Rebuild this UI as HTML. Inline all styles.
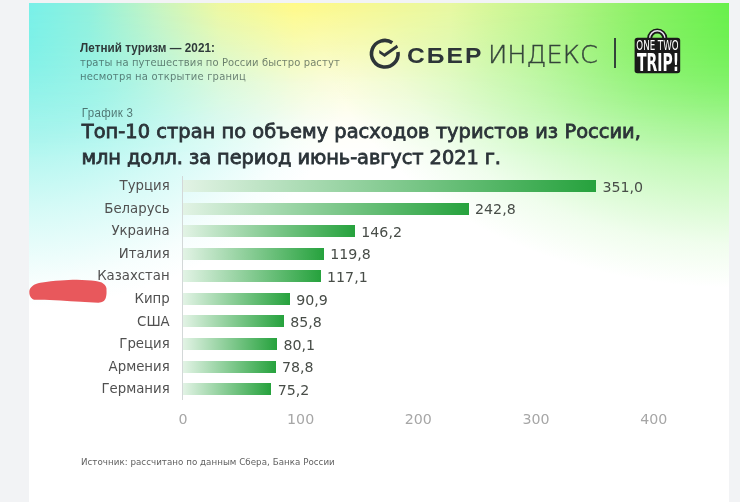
<!DOCTYPE html>
<html lang="ru">
<head>
<meta charset="utf-8">
<style>
html,body{margin:0;padding:0;}
body{width:740px;height:502px;overflow:hidden;background:#f2f3f5;position:relative;font-family:"Liberation Sans","DejaVu Sans",sans-serif;}
#card{position:absolute;left:29px;top:3px;width:700px;height:499px;overflow:hidden;background:#fff;filter:blur(0.4px);}
.bg{position:absolute;left:0;top:0;width:700px;height:499px;}
#bg1{background:linear-gradient(to right,#78f0e8 0px,#90f0dc 60px,#c8f4c0 130px,#eef8a0 190px,#fffa88 265px,#f8f890 320px,#e8f8a0 420px,#bcf48c 520px,#8cf066 610px,#68f04c 700px);
 -webkit-mask-image:linear-gradient(to bottom,#000 0px,rgba(0,0,0,.66) 40px,rgba(0,0,0,.3) 80px,rgba(0,0,0,.08) 120px,transparent 155px);mask-image:linear-gradient(to bottom,#000 0px,rgba(0,0,0,.66) 40px,rgba(0,0,0,.3) 80px,rgba(0,0,0,.08) 120px,transparent 155px);}
#bg2{background:radial-gradient(ellipse 340px 275px at -10px 30px,rgba(120,240,228,.9) 0%,rgba(120,240,228,.65) 35%,rgba(120,240,228,.3) 65%,rgba(120,240,228,.06) 90%,rgba(120,240,228,0) 100%);}
#bg3{background:radial-gradient(ellipse 425px 290px at 710px -5px,rgba(108,240,80,1) 0%,rgba(108,240,80,.76) 30%,rgba(108,240,80,.38) 60%,rgba(108,240,80,.1) 85%,rgba(108,240,80,0) 100%);}
.t{position:absolute;white-space:nowrap;line-height:1;}
#h1{left:51px;top:38.25px;font-weight:bold;font-size:11.7px;color:#2f3a3a;letter-spacing:0.05px;transform-origin:0 0;transform:scaleY(1.105);}
#h2{left:51px;top:54.05px;font-family:"DejaVu Sans",sans-serif;font-size:10px;color:rgba(30,50,50,.62);letter-spacing:0.1px;transform-origin:0 0;transform:scaleY(1.07);}
#h3{left:51px;top:67.86px;font-family:"DejaVu Sans",sans-serif;font-size:10px;color:rgba(30,50,50,.62);letter-spacing:0.2px;transform-origin:0 0;transform:scaleY(1.07);}
#g3{left:52.8px;top:103.5px;font-size:11.5px;color:rgba(30,50,50,.66);letter-spacing:0.32px;transform-origin:0 0;transform:scaleY(1.1);}
#ti1{left:52.8px;top:118.8px;font-family:"DejaVu Sans",sans-serif;font-size:19.4px;color:#2b3338;-webkit-text-stroke:0.8px #2b3338;letter-spacing:0.04px;transform-origin:0 0;transform:scaleY(0.975);}
#ti2{left:52.5px;top:144.5px;font-family:"DejaVu Sans",sans-serif;font-size:19.4px;color:#2b3338;-webkit-text-stroke:0.8px #2b3338;letter-spacing:-0.08px;transform-origin:0 0;transform:scaleY(0.975);}
.lab{position:absolute;right:559.3px;font-family:"DejaVu Sans",sans-serif;font-size:13.3px;color:#505050;line-height:16px;white-space:nowrap;}
.val{position:absolute;font-family:"DejaVu Sans",sans-serif;font-size:14.2px;color:#484d48;line-height:16px;white-space:nowrap;transform-origin:0 12.9px;transform:scaleY(1.05);}
.bar{position:absolute;left:154px;height:12px;background:linear-gradient(to right,#e2f3e5,#26a23d);}
#axis{position:absolute;left:152.9px;top:173.1px;width:1px;height:224.2px;background:#d3d8d8;}
.tick{position:absolute;top:407.9px;font-family:"DejaVu Sans",sans-serif;font-size:14.2px;color:#a6a6a6;line-height:16px;width:60px;text-align:center;}
#src{left:52px;top:455px;font-family:"DejaVu Sans",sans-serif;font-size:8.7px;color:#606060;letter-spacing:0.04px;}
#red{position:absolute;left:0;top:0;width:740px;height:502px;filter:blur(0.5px);}
</style>
</head>
<body>
<div id="card">
 <div class="bg" id="bg2"></div>
 <div class="bg" id="bg3"></div>
 <div class="bg" id="bg1"></div>

 <div class="t" id="h1">Летний туризм — 2021:</div>
 <div class="t" id="h2">траты на путешествия по России быстро растут</div>
 <div class="t" id="h3">несмотря на открытие границ</div>

 <!-- SBER logo -->
 <svg style="position:absolute;left:338px;top:33px" width="40" height="40" viewBox="0 0 40 40">
  <path d="M25.24 6.72 A13.3 13.3 0 1 0 30.97 15.9" fill="none" stroke="#2d3538" stroke-width="3.6"/>
  <path d="M12.26 13.98 L17.28 17.56 L29.82 8.75 L31.11 11.47 L17.64 20.93 L12.26 17.2 Z" fill="#2d3538"/>
 </svg>
 <div class="t" id="sber" style="left:378.3px;top:41.3px;font-family:'Liberation Sans',sans-serif;font-weight:bold;font-size:22.8px;color:#2d3538;letter-spacing:1.9px;transform-origin:0 0;transform:scaleX(1.08)">СБЕР</div>
 <div class="t" id="index" style="left:459px;top:40px;font-family:'DejaVu Sans',sans-serif;font-weight:200;font-size:24.4px;color:#34443a;letter-spacing:0px;-webkit-text-stroke:0.35px #34443a;transform-origin:0 0;transform:scaleX(1.05)">ИНДЕКС</div>
 <div style="position:absolute;left:585px;top:35px;width:1.6px;height:30px;background:#34443a"></div>

 <!-- OneTwoTrip logo -->
 <svg style="position:absolute;left:0;top:0" width="700" height="80" viewBox="0 0 700 80">
  <path d="M620.6 35.6 A7.65 7.65 0 0 1 635.9 35.6" fill="none" stroke="#1a1a1a" stroke-width="5.1"/>
  <path d="M620.6 35.4 A7.65 7.65 0 0 1 635.9 35.4" fill="none" stroke="#e8e0f0" stroke-width="1.6"/>
  <rect x="605.6" y="34.8" width="45.6" height="35.5" rx="2.8" fill="#1a1a1a"/>
  <text x="607.3" y="47.3" textLength="42.3" lengthAdjust="spacingAndGlyphs" font-family="DejaVu Sans Condensed, DejaVu Sans, sans-serif" font-stretch="condensed" font-weight="normal" font-size="13.2" fill="#fff">ONE TWO</text>
  <text x="608" y="67.8" textLength="42" lengthAdjust="spacingAndGlyphs" font-family="DejaVu Sans Condensed, DejaVu Sans, sans-serif" font-stretch="condensed" font-weight="bold" font-size="24.7" fill="#fff">TRIP!</text>
 </svg>

 <div class="t" id="g3">График 3</div>
 <div class="t" id="ti1">Топ-10 стран по объему расходов туристов из России,</div>
 <div class="t" id="ti2">млн долл. за период июнь-август 2021 г.</div>

 <div id="axis"></div>
 <div class="lab" style="top:174.90px">Турция</div>
 <div class="bar" style="top:177.10px;width:413.13px"></div>
 <div class="val" style="top:175.75px;left:573.43px">351,0</div>
 <div class="lab" style="top:197.50px">Беларусь</div>
 <div class="bar" style="top:199.65px;width:285.75px"></div>
 <div class="val" style="top:198.30px;left:446.05px">242,8</div>
 <div class="lab" style="top:220.10px">Украина</div>
 <div class="bar" style="top:222.20px;width:172.02px"></div>
 <div class="val" style="top:220.85px;left:332.32px">146,2</div>
 <div class="lab" style="top:242.70px">Италия</div>
 <div class="bar" style="top:244.75px;width:140.94px"></div>
 <div class="val" style="top:243.40px;left:301.24px">119,8</div>
 <div class="lab" style="top:265.30px">Казахстан</div>
 <div class="bar" style="top:267.30px;width:137.76px"></div>
 <div class="val" style="top:265.95px;left:298.06px">117,1</div>
 <div class="lab" style="top:287.90px">Кипр</div>
 <div class="bar" style="top:289.85px;width:106.92px"></div>
 <div class="val" style="top:288.50px;left:267.22px">90,9</div>
 <div class="lab" style="top:310.50px">США</div>
 <div class="bar" style="top:312.40px;width:100.91px"></div>
 <div class="val" style="top:311.05px;left:261.21px">85,8</div>
 <div class="lab" style="top:333.10px">Греция</div>
 <div class="bar" style="top:334.95px;width:94.20px"></div>
 <div class="val" style="top:333.60px;left:254.50px">80,1</div>
 <div class="lab" style="top:355.70px">Армения</div>
 <div class="bar" style="top:357.50px;width:92.67px"></div>
 <div class="val" style="top:356.15px;left:252.97px">78,8</div>
 <div class="lab" style="top:378.30px">Германия</div>
 <div class="bar" style="top:380.05px;width:88.43px"></div>
 <div class="val" style="top:378.70px;left:248.73px">75,2</div>

 <div class="tick" style="left:123.90px">0</div>
 <div class="tick" style="left:241.63px">100</div>
 <div class="tick" style="left:359.36px">200</div>
 <div class="tick" style="left:477.09px">300</div>
 <div class="tick" style="left:594.82px">400</div>

 <div class="t" id="src">Источник: рассчитано по данным Сбера, Банка России</div>
</div>
<svg id="red" width="740" height="502" viewBox="0 0 740 502"><path d="M40.3 282.8 C48 281.5,54 280.8,60.5 280.5 C66 280.2,71 279.8,76.8 279.7 C84 279.8,90 280.3,95.7 281.1 C99 281.6,101.5 282.3,103.1 283.5 C106 285.5,106.8 288,106.5 290.3 C106.8 295,106 299.5,103.8 301.1 C102 302.4,100.3 302.8,98.4 302.8 C92 302.6,86 302.2,80.8 301.8 C74 301.3,67 300.8,60.5 300.4 C53 300,46 299.8,40.3 299.7 C37 299.7,34.5 300.2,32.5 299 C30 297.5,29.2 294.5,29.3 291.5 C29.5 287.5,34 283.7,40.3 282.8 Z" fill="#e8585c"/></svg>
</body>
</html>
